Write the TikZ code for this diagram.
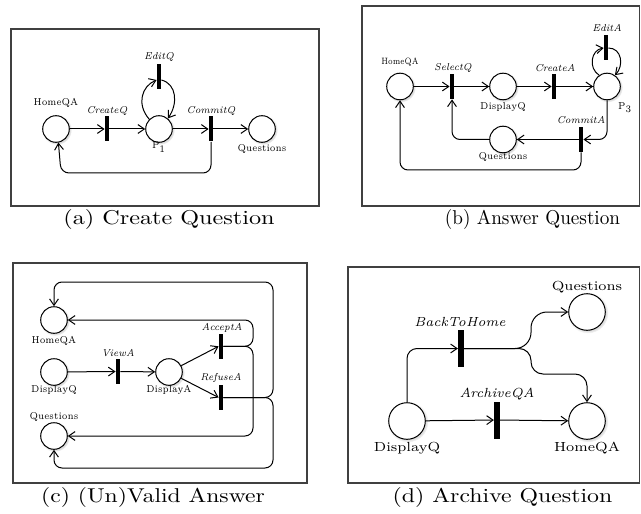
\documentclass[tikz,border=0pt]{standalone}
\usepackage{graphicx}
\usetikzlibrary{arrows.meta,shadows}
% horizontally scaled text
\newcommand\stretched[2][1.18]{\scalebox{#1}[1]{#2}}
\newcommand\lw[1]{\scalebox{0.83}[1]{#1}}
\newcommand\iw[1]{\scalebox{0.97}[1]{#1}}
\newcommand\dw[1]{\scalebox{1.09}[1]{#1}}
\newcommand\diw[1]{\scalebox{1.01}[1]{#1}}
\begin{document}
\begin{tikzpicture}[x=0.5pt,y=-0.5pt,
  arc/.style={draw=black, line width=0.5pt, -{Straight Barb[length=3.2pt,width=4.4pt]}},
  place/.style={circle, draw=black, line width=0.5pt, fill=white, minimum size=13.3pt, inner sep=0pt,
    circular drop shadow={shadow scale=1.12, shadow xshift=0.4pt, shadow yshift=-0.4pt, opacity=0.3}},
  bigplace/.style={place, minimum size=18.3pt},
  trans/.style={rectangle, fill=black, minimum width=2pt, minimum height=12.5pt, inner sep=0pt},
  bigtrans/.style={trans, minimum width=2.7pt, minimum height=18.5pt},
  frame/.style={draw=black!75, line width=0.6pt},
  lbl/.style={inner sep=0pt, font=\fontsize{5}{6}\selectfont},
  ilbl/.style={inner sep=0pt, font=\fontsize{5}{6}\selectfont\itshape},
  dlbl/.style={inner sep=0pt, font=\fontsize{6.6}{7.5}\selectfont},
  dilbl/.style={inner sep=0pt, font=\fontsize{6.6}{7.5}\selectfont\itshape},
  caption/.style={inner sep=0pt, anchor=base, font=\fontsize{10}{12}\selectfont}]
\useasboundingbox (0,0) rectangle (641,513);

% ---------- (a) Create Question ----------
\draw[frame] (11,29) rectangle (319,206);
\node[place] (aHome) at (56,129) {};
\node[lbl] (aHomeL) at (56,103) {\lw{HomeQA}};
\node[trans] (aCreate) at (107,129) {};
\node[ilbl] (aCreateL) at (107,111) {\iw{CreateQ}};
\node[place] (aP) at (159,129) {};
\node[lbl] (aPL) at (159,147) {\lw{P\textsubscript{1}}};
\node[trans] (aEdit) at (159,77) {};
\node[ilbl] (aEditL) at (159,57) {\iw{EditQ}};
\node[trans] (aCommit) at (211,129) {};
\node[ilbl] (aCommitL) at (211,111) {\iw{CommitQ}};
\node[place] (aQ) at (262,129) {};
\node[lbl] (aQL) at (262,149) {\lw{Questions}};
\draw[arc] (aHome) -- (aCreate);
\draw[arc] (aCreate) -- (aP);
\draw[arc] (aP) -- (aCommit);
\draw[arc] (aCommit) -- (aQ);
\draw[arc, rounded corners=4pt] (aCommit.south) |- (61,173) -- (aHome.-80);
\draw[arc] (aP.135) .. controls (136,104) and (142,86) .. ([yshift=-1.5pt]aEdit.west);
\draw[arc] ([yshift=-1.5pt]aEdit.east) .. controls (177,84) and (178,104) .. (aP.50);
\node[caption] (capA) at (169,224) {\stretched[1.21]{(a) Create Question}};

% ---------- (b) Answer Question ----------
\draw[frame] (362,6) rectangle (639.5,206);
\node[place] (bHome) at (400,86.5) {};
\node[lbl, font=\fontsize{4.6}{5.5}\selectfont] (bHomeL) at (400,62) {\stretched[0.75]{HomeQA}};
\node[trans] (bSelect) at (452,86.5) {};
\node[ilbl] (bSelectL) at (453,68) {\iw{SelectQ}};
\node[place] (bDQ) at (503,86.5) {};
\node[lbl] (bDQL) at (503,107) {\lw{DisplayQ}};
\node[trans] (bCreate) at (554,86.5) {};
\node[ilbl] (bCreateL) at (555,68) {\iw{CreateA}};
\node[place] (bP) at (607,86.5) {};
\node[lbl] (bPL) at (625,108) {\lw{P\textsubscript{3}}};
\node[trans] (bEdit) at (606,48) {};
\node[ilbl] (bEditL) at (607,28) {\iw{EditA}};
\node[trans] (bCommit) at (581,139.5) {};
\node[ilbl] (bCommitL) at (581,120) {\iw{CommitA}};
\node[place] (bQ) at (503,139.5) {};
\node[lbl] (bQL) at (503,157) {\lw{Questions}};
\draw[arc] (bHome) -- (bSelect);
\draw[arc] (bSelect) -- (bDQ);
\draw[arc] (bDQ) -- (bCreate);
\draw[arc] (bCreate) -- (bP);
\draw[arc, rounded corners=4pt] (bP) |- (bCommit);
\draw[arc] (bCommit) -- (bQ);
\draw[arc, rounded corners=4pt] (bQ) -| (bSelect);
\draw[arc, rounded corners=4pt] (bCommit) |- (400,170) -- (bHome);
\draw[arc] (bP.125) .. controls (588,68) and (591,50) .. (bEdit.west);
\draw[arc] (bEdit.east) .. controls (622,48) and (624,66) .. (bP.55);
\node[caption] (capB) at (532.5,224) {\stretched[0.96]{(b) Answer Question}};

% ---------- (c) (Un)Valid Answer ----------
\draw[frame] (13,263) rectangle (307,483);
\node[place] (cHome) at (54,320) {};
\node[lbl] (cHomeL) at (54,341) {\lw{HomeQA}};
\node[place] (cDQ) at (54,372) {};
\node[lbl] (cDQL) at (54,390) {\lw{DisplayQ}};
\node[place] (cQ) at (54,436) {};
\node[lbl] (cQL) at (54,417) {\lw{Questions}};
\node[trans] (cView) at (118,371.5) {};
\node[ilbl] (cViewL) at (118,353) {\iw{ViewA}};
\node[place] (cDA) at (169,372) {};
\node[lbl] (cDAL) at (169,390) {\lw{DisplayA}};
\node[trans] (cAccept) at (221,346.3) {};
\node[ilbl] (cAcceptL) at (222,328) {\iw{AcceptA}};
\node[trans] (cRefuse) at (221,397.5) {};
\node[ilbl] (cRefuseL) at (221,378) {\iw{RefuseA}};
\draw[arc] (cDQ) -- (cView);
\draw[arc] (cView) -- (cDA);
\draw[arc] (cDA) -- (cAccept.west);
\draw[arc] (cDA) -- (cRefuse.west);
\draw[arc, rounded corners=4pt] (cAccept.east) -- (253,346.3) -- (253,320) -- (cHome.east);
\draw[arc, rounded corners=4pt] (cAccept.east) -- (253,346.3) -- (253,436) -- (cQ.east);
\draw[arc, rounded corners=4pt] (cRefuse.east) -- (273,397.5) -- (273,282) -| (cHome.north);
\draw[arc, rounded corners=4pt] (cRefuse.east) -- (273,397.5) -- (273,468) -| (cQ.south);
\node[caption] (capC) at (153,502) {\stretched[1.18]{(c) (Un)Valid Answer}};

% ---------- (d) Archive Question ----------
\draw[frame] (348,267) rectangle (639.5,483);
\node[bigplace] (dDQ) at (407,421) {};
\node[dlbl] (dDQL) at (407,448) {\dw{DisplayQ}};
\node[bigplace] (dHome) at (587,421) {};
\node[dlbl] (dHomeL) at (587,448) {\dw{HomeQA}};
\node[bigplace] (dQ) at (587,312) {};
\node[dlbl] (dQL) at (587,287) {\dw{Questions}};
\node[bigtrans] (dBack) at (461,348.5) {};
\node[dilbl] (dBackL) at (460,322) {\diw{BackToHome}};
\node[bigtrans] (dArch) at (497,420) {};
\node[dilbl] (dArchL) at (497,394) {\diw{ArchiveQA}};
\draw[arc, rounded corners=5pt] (dDQ) |- (dBack);
\draw[arc, rounded corners=8pt] (dBack.east) -- (531,348.5) -- (531,312) -- (dQ.west);
\draw[arc, rounded corners=6pt] (dBack.east) -- (531,348.5) -- (531,374) -- (587,374) -- (dHome.north);
\draw[arc] (dDQ) -- (dArch);
\draw[arc] (dArch) -- (dHome);
\node[caption] (capD) at (502.5,502) {\stretched[1.19]{(d) Archive Question}};
\end{tikzpicture}
\end{document}
